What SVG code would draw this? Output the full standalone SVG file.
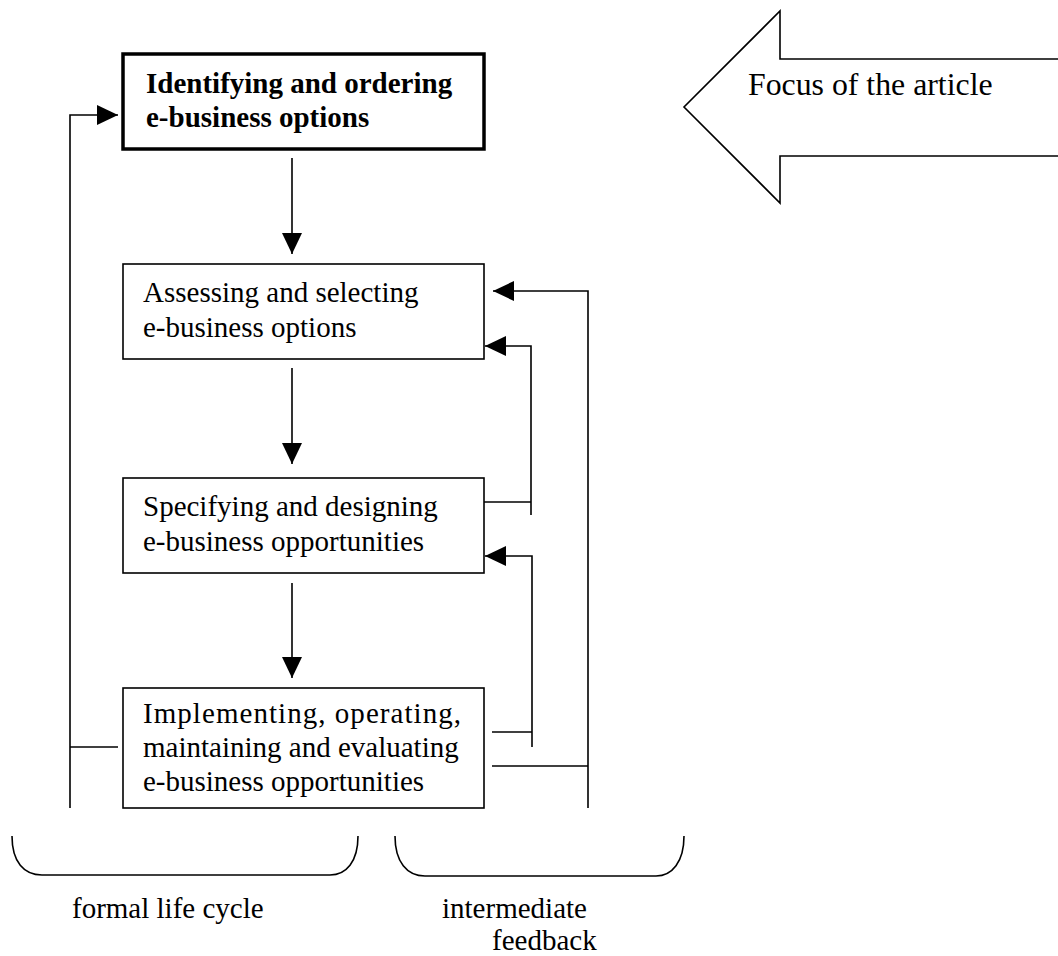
<svg xmlns="http://www.w3.org/2000/svg" width="1058" height="956" viewBox="0 0 1058 956">
<style>
.box{fill:#fff;stroke:#000;stroke-width:1.6}
.bold{fill:#fff;stroke:#000;stroke-width:3.5}
.t{font-family:"Liberation Serif","Times New Roman",serif;font-size:29px;fill:#000}
.tb{font-family:"Liberation Serif","Times New Roman",serif;font-size:29px;font-weight:bold;fill:#000}
.ln{fill:none;stroke:#000;stroke-width:1.6}
</style>
<defs>
<marker id="ah" markerUnits="userSpaceOnUse" markerWidth="22" markerHeight="22" viewBox="0 0 22 22" refX="21" refY="11" orient="auto">
<path d="M0,1 L21,11 L0,21 Z" fill="#000"/>
</marker>
</defs>
<rect width="1058" height="956" fill="#fff"/>
<g id="focus-arrow">
<path d="M1058,59 L780,59 L780,11 L684,107 L780,203 L780,156 L1058,156" fill="#fff" stroke="#000" stroke-width="1.6"/>
<text class="t" x="748" y="95" style="font-size:31.8px">Focus of the article</text>
</g>
<g id="connectors">
<line class="ln" x1="292" y1="158" x2="292" y2="254" marker-end="url(#ah)"/>
<line class="ln" x1="292" y1="368" x2="292" y2="464" marker-end="url(#ah)"/>
<line class="ln" x1="292" y1="583" x2="292" y2="678" marker-end="url(#ah)"/>
<polyline class="ln" points="70,808 70,115 118,115" marker-end="url(#ah)"/>
<line class="ln" x1="70" y1="747" x2="118" y2="747"/>
<polyline class="ln" points="588,808 588,291 493,291" marker-end="url(#ah)"/>
<line class="ln" x1="492" y1="766" x2="588" y2="766"/>
<polyline class="ln" points="531,515 531,346 485,346" marker-end="url(#ah)"/>
<line class="ln" x1="484" y1="502" x2="531" y2="502"/>
<polyline class="ln" points="532,747 532,556 485,556" marker-end="url(#ah)"/>
<line class="ln" x1="492" y1="732" x2="532" y2="732"/>
</g>
<g id="node-identify">
<rect class="bold" x="123" y="54" width="361" height="95"/>
<text class="tb" x="146" y="93">Identifying and ordering</text>
<text class="tb" x="146" y="127">e-business options</text>
</g>
<g id="node-assess">
<rect class="box" x="123" y="264" width="361" height="95"/>
<text class="t" x="143" y="302">Assessing and selecting</text>
<text class="t" x="143" y="337">e-business options</text>
</g>
<g id="node-specify">
<rect class="box" x="123" y="478" width="361" height="95"/>
<text class="t" x="143" y="516">Specifying and designing</text>
<text class="t" x="143" y="551">e-business opportunities</text>
</g>
<g id="node-implement">
<rect class="box" x="123" y="688" width="361" height="120"/>
<text class="t" x="143" y="723" textLength="318" lengthAdjust="spacing">Implementing, operating,</text>
<text class="t" x="143" y="757">maintaining and evaluating</text>
<text class="t" x="143" y="791">e-business opportunities</text>
</g>
<g id="brace-formal">
<path class="ln" d="M12,836 C12,862 24,875 42,875 L330,875 C346,875 358,862 358,836"/>
<text class="t" x="72" y="918">formal life cycle</text>
</g>
<g id="brace-feedback">
<path class="ln" d="M395,836 C395,862 407,876 425,876 L656,876 C672,876 684,862 684,836"/>
<text class="t" x="442" y="918">intermediate</text>
<text class="t" x="492" y="950">feedback</text>
</g>
</svg>
